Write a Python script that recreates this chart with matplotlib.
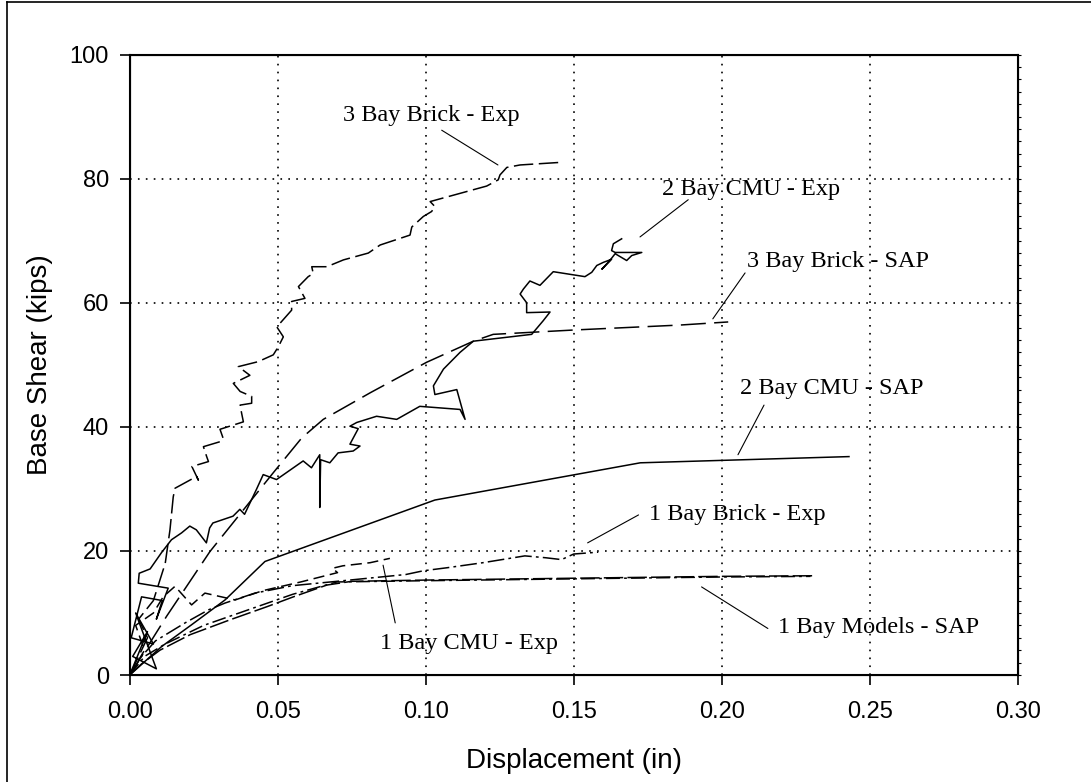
import numpy as np
import matplotlib
matplotlib.use('Agg')
import matplotlib.pyplot as plt
from matplotlib.lines import Line2D

plt.rcParams['font.family'] = ['Liberation Sans', 'DejaVu Sans']
plt.rcParams['lines.scale_dashes'] = False

# ---- data (displacement in, base shear kips) ----
brick3_exp_x = [0, 0.006, 0.003, 0.008, 0.012, 0.0136, 0.0147, 0.0153, 0.0226, 0.0232, 0.021, 0.0266, 0.026,
                0.0249, 0.0305, 0.0316, 0.0305, 0.0384, 0.0378, 0.0373, 0.0412, 0.0412, 0.0373, 0.035, 0.0406,
                0.0367, 0.0434, 0.0485, 0.0502, 0.0519, 0.0497, 0.0547, 0.0547, 0.0592, 0.057, 0.0603, 0.062,
                0.0615, 0.0666, 0.0722, 0.0806, 0.0846, 0.0947, 0.0953, 0.0992, 0.102, 0.1031, 0.1015, 0.1206,
                0.1245, 0.1251, 0.1274, 0.1319, 0.145]
brick3_exp_y = [0, 6, 9, 12, 18, 23.4, 28.7, 30.1, 32.0, 31.4, 33.6, 34.4, 35.2,
                36.8, 37.6, 38.1, 39.6, 40.8, 42.2, 43.5, 43.8, 44.9, 45.7, 47.0, 48.3,
                49.7, 50.5, 51.6, 52.9, 54.5, 56.1, 58.8, 60.2, 60.7, 62.6, 64.2, 64.7,
                65.8, 65.8, 66.9, 68.0, 69.3, 70.9, 72.2, 73.9, 74.7, 75.5, 76.3, 78.8,
                79.8, 80.6, 81.8, 82.2, 82.6]

cmu2_exp_x = [0, 0.006, 0.001, 0.009, 0.002, 0.008, 0.0005, 0.004, 0.011, 0.009, 0.013, 0.0029, 0.0032,
              0.0069, 0.0107, 0.0141, 0.0175, 0.0203, 0.0225, 0.0259, 0.027, 0.0281, 0.0349, 0.0372, 0.0388,
              0.0428, 0.0451, 0.0496, 0.0586, 0.0614, 0.0642, 0.0642, 0.0645, 0.0676, 0.0704, 0.0755, 0.0778,
              0.0744, 0.0772, 0.0744, 0.0767, 0.0834, 0.0902, 0.098, 0.1116, 0.1133, 0.1105, 0.1031, 0.1026,
              0.106, 0.1116, 0.1161, 0.1358, 0.1397, 0.142, 0.1341, 0.1341, 0.1319, 0.133, 0.1352, 0.1386,
              0.1431, 0.1538, 0.1561, 0.1578, 0.16, 0.1628, 0.1595, 0.1622, 0.164, 0.1679, 0.1696, 0.173,
              0.164, 0.1628, 0.1634, 0.1662]
cmu2_exp_y = [0, 7, 3, 1, 10, 5, 6, 12.6, 12.0, 9, 14, 14.8, 16.4,
              17.1, 19.7, 21.8, 22.9, 24.0, 23.4, 21.3, 23.7, 24.5, 25.6, 26.7, 25.9,
              29.9, 32.3, 31.5, 34.5, 33.4, 35.5, 27.0, 34.7, 34.2, 35.8, 36.1, 36.9,
              37.2, 39.7, 40.1, 40.7, 41.7, 41.2, 43.3, 42.8, 41.2, 46.0, 45.2, 46.6,
              49.3, 52.0, 53.8, 54.9, 57.1, 58.5, 58.4, 60.0, 61.4, 62.2, 63.5, 62.8,
              65.0, 64.2, 64.9, 66.0, 66.5, 67.0, 65.4, 66.8, 67.9, 66.8, 67.6, 68.1,
              68.1, 68.4, 69.5, 70.3]

brick3_sap_x = [0, 0.0125, 0.0271, 0.0485, 0.0581, 0.0654, 0.0813, 0.1003, 0.1161, 0.1228, 0.15, 0.1859, 0.2022]
brick3_sap_y = [0, 9.5, 19.9, 32.6, 38.2, 41.2, 45.5, 50.4, 53.8, 54.9, 55.6, 56.4, 56.9]

cmu2_sap_x = [0, 0.0108, 0.0209, 0.0322, 0.0457, 0.1031, 0.1725, 0.243]
cmu2_sap_y = [0, 4.6, 8.1, 12.1, 18.3, 28.2, 34.2, 35.2]

brick1_exp_x = [0, 0.004, 0.0087, 0.0187, 0.0266, 0.0322, 0.0423, 0.055, 0.07, 0.0933, 0.0992, 0.1074,
                0.1193, 0.1335, 0.1405, 0.1459, 0.15, 0.1583]
brick1_exp_y = [0, 3, 5.5, 8.4, 10.5, 11.6, 13.2, 14.4, 15.1, 16.2, 16.8, 17.3,
                18.1, 19.2, 18.9, 18.6, 19.5, 19.8]

cmu1_exp_x = [0, 0.005, 0.002, 0.008, 0.0113, 0.0153, 0.0209, 0.0254, 0.0356, 0.045, 0.0578, 0.0702,
              0.0685, 0.072, 0.0812, 0.0879]
cmu1_exp_y = [0, 4, 8, 10, 12.6, 14.3, 11.3, 13.2, 12.1, 13.6, 15.0, 16.5,
              17.2, 17.6, 18.1, 18.8]

models1_sap_a_x = [0, 0.004, 0.0102, 0.0204, 0.0339, 0.0463, 0.0553, 0.0666, 0.075, 0.10, 0.15, 0.20, 0.2316]
models1_sap_a_y = [0, 1.8, 4.0, 6.5, 8.9, 11.0, 12.6, 14.5, 15.1, 15.3, 15.6, 15.9, 16.0]
models1_sap_b_x = [0, 0.005, 0.012, 0.025, 0.04, 0.055, 0.07, 0.10, 0.15, 0.20, 0.23]
models1_sap_b_y = [0, 3, 5, 8, 10.5, 13, 15.0, 15.2, 15.5, 15.8, 15.9]

fig = plt.figure(figsize=(10.91, 7.82), dpi=100)
ax = fig.add_axes([0.1189, 0.1368, 0.8139, 0.7935])

lw = 1.1
ax.plot(brick3_exp_x, brick3_exp_y, color='black', lw=lw, dashes=(14, 4))
ax.plot(cmu2_exp_x, cmu2_exp_y, color='black', lw=lw)
ax.plot(brick3_sap_x, brick3_sap_y, color='black', lw=lw, dashes=(18, 6))
ax.plot(cmu2_sap_x, cmu2_sap_y, color='black', lw=lw)
ax.plot(brick1_exp_x, brick1_exp_y, color='black', lw=lw, dashes=(12, 3, 2, 3))
ax.plot(cmu1_exp_x, cmu1_exp_y, color='black', lw=lw, dashes=(8, 4))
ax.plot(models1_sap_a_x, models1_sap_a_y, color='black', lw=lw, dashes=(14, 3))
ax.plot(models1_sap_b_x, models1_sap_b_y, color='black', lw=lw, dashes=(10, 3, 2, 3))

ax.set_xlim(0, 0.30)
ax.set_ylim(0, 100)
ax.set_xticks(np.arange(0, 0.31, 0.05))
ax.set_xticklabels(['0.00', '0.05', '0.10', '0.15', '0.20', '0.25', '0.30'])
ax.set_yticks(np.arange(0, 101, 20))
ax.grid(True, color='black', linestyle=(0, (1.2, 4.5)), linewidth=1.2)
ax.tick_params(axis='both', labelsize=17, length=7, width=1.2, direction='out', color='black')
ax.tick_params(axis='x', pad=12)
ax.tick_params(axis='y', pad=8)
for s in ax.spines.values():
    s.set_linewidth(1.5)

# small ticks along the right spine
ax2 = ax.twinx()
ax2.set_ylim(0, 100)
ax2.set_yticks(np.arange(0, 101, 2))
ax2.set_yticklabels([])
ax2.tick_params(axis='y', length=2, width=0.8, direction='out')

ax.set_xlabel('Displacement (in)', fontsize=20, labelpad=18)
ax.set_ylabel('Base Shear (kips)', fontsize=20, labelpad=12)

labels = ['3 Bay Brick - Exp', '2 Bay CMU - Exp', '3 Bay Brick - SAP', '2 Bay CMU - SAP',
          '1 Bay Brick - Exp', '1 Bay CMU - Exp', '1 Bay Models - SAP']
text_pos = [(0.0721, 90.2), (0.180, 78.2), (0.2084, 66.6), (0.2062, 46.2),
            (0.1754, 25.8), (0.0844, 5.1), (0.219, 7.6)]
leader_from = [(0.1054, 87.8), (0.1887, 76.6), (0.2079, 64.8), (0.2143, 43.5),
               (0.1719, 25.8), (0.0856, 17.7), (0.1932, 14.2)]
leader_to = [(0.1244, 82.2), (0.1724, 70.6), (0.197, 57.4), (0.2055, 35.5),
             (0.1547, 21.3), (0.0897, 8.4), (0.2156, 7.5)]

for lab, tp, lf, lt in zip(labels, text_pos, leader_from, leader_to):
    ax.text(tp[0], tp[1], lab, fontsize=17.5, family=['Liberation Serif', 'DejaVu Serif'],
            ha='left', va='center')
    ax.annotate('', xy=lt, xytext=lf,
                arrowprops=dict(arrowstyle='-', color='black', lw=0.8, shrinkA=0, shrinkB=0))

# outer frame
fig.add_artist(Line2D([7 / 1091, 7 / 1091], [0, 1 - 2 / 782], color='black', lw=1.2))
fig.add_artist(Line2D([7 / 1091, 1], [1 - 2 / 782, 1 - 2 / 782], color='black', lw=1.2))

fig.savefig('out.png', dpi=100)
